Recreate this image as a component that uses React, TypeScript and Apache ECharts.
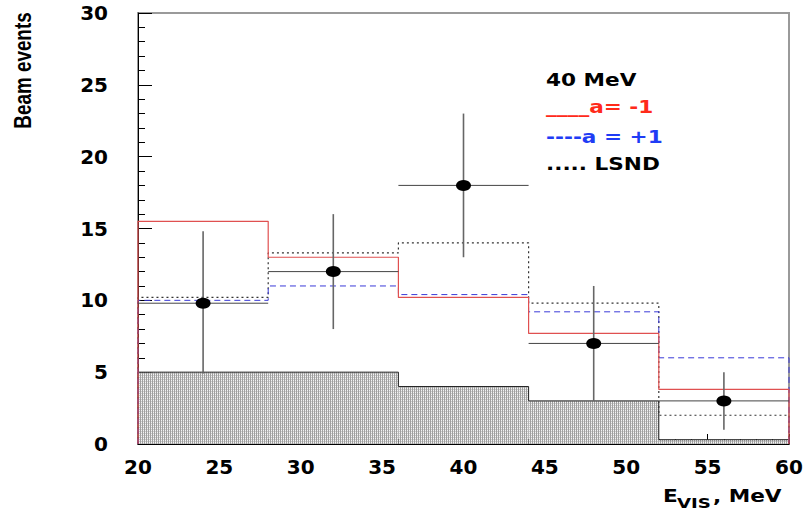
import React, { useEffect, useRef } from 'react';
import * as echarts from 'echarts';

// ---- data ----
const binEdges = [20, 28, 36, 44, 52, 60];
const binCenters = [24, 32, 40, 48, 56];
const dataValues = [9.8, 12, 18, 7, 3];
const dataErrLow = [4.9, 8, 13, 3, 1];
const dataErrHigh = [14.8, 16, 23, 11, 5];
const aMinus1 = [15.5, 13.0, 10.2, 7.7, 3.8];
const aPlus1 = [10.0, 11.0, 10.4, 9.2, 6.0];
const lsnd = [10.2, 13.3, 14.0, 9.8, 2.0];
const background = [5, 5, 4, 3, 0.3];
const legendLines = ['40 MeV', '____a= -1', '----a = +1', '..... LSND'];
const legendColors = ['#000000', '#ff2a1a', '#1f3cf5', '#000000'];
const yTitle = 'Beam events';

function stepPoints(vals: number[]) {
  const pts: number[][] = [[binEdges[0], 0]];
  vals.forEach((v, i) => {
    pts.push([binEdges[i], v]);
    pts.push([binEdges[i + 1], v]);
  });
  pts.push([binEdges[binEdges.length - 1], 0]);
  return pts;
}

function makePattern() {
  const c = document.createElement('canvas');
  c.width = 2;
  c.height = 2;
  const ctx = c.getContext('2d')!;
  ctx.fillStyle = '#f4f4f4';
  ctx.fillRect(0, 0, 2, 2);
  ctx.fillStyle = '#a0a0a0';
  ctx.fillRect(0, 0, 1, 2);
  ctx.fillStyle = '#cccccc';
  ctx.fillRect(1, 1, 1, 1);
  return { type: 'pattern', image: c.toDataURL(), repeat: 'repeat', imageWidth: 2, imageHeight: 2 } as any;
}

export default function App() {
  const ref = useRef<HTMLDivElement>(null);
  useEffect(() => {
    if (!ref.current) return;
    const chart = echarts.init(ref.current, undefined, { renderer: 'svg' });
    const pattern = makePattern();
    const tickFont = { fontFamily: 'DejaVu Sans', fontWeight: 'bold' as const, fontSize: 20, color: '#000' };

    const legendY = [80, 107.5, 137, 164];
    const legendGraphics = legendLines.map((t, i) => ({
      type: 'text',
      x: 546,
      y: legendY[i],
      scaleX: 1.2,
      style: {
        text: t,
        fontFamily: 'DejaVu Sans',
        fontWeight: 'bold',
        fontSize: 18,
        fill: legendColors[i],
        align: 'left',
        verticalAlign: 'middle',
      },
    }));

    const option: any = {
      animation: false,
      backgroundColor: '#ffffff',
      grid: { left: 138, right: 18, top: 13, bottom: 71, show: true, borderColor: '#9a9a9a', borderWidth: 2 },
      xAxis: {
        type: 'value',
        min: 20,
        max: 60,
        interval: 5,
        axisLine: { show: true, onZero: false, lineStyle: { color: '#000', width: 1 } },
        axisTick: { show: true, inside: true, length: 10, lineStyle: { color: '#000' } },
        minorTick: { show: true, splitNumber: 5, length: 5, lineStyle: { color: '#000' } },
        splitLine: { show: false },
        axisLabel: { ...tickFont, margin: 13, showMinLabel: true, showMaxLabel: true },
      },
      yAxis: {
        type: 'value',
        min: 0,
        max: 30,
        interval: 5,
        axisLine: { show: true, lineStyle: { color: '#000', width: 1 } },
        axisTick: { show: true, inside: true, length: 14, lineStyle: { color: '#000' } },
        minorTick: { show: true, splitNumber: 5, length: 7, lineStyle: { color: '#000' } },
        splitLine: { show: false },
        axisLabel: { ...tickFont, margin: 30, showMinLabel: true, showMaxLabel: true },
      },
      series: [
        {
          type: 'custom',
          name: 'background',
          clip: false,
          data: background.map((v, i) => [binEdges[i], binEdges[i + 1], v]),
          renderItem: (params: any, api: any) => {
            const p0 = api.coord([api.value(0), api.value(2)]);
            const p1 = api.coord([api.value(1), 0]);
            return {
              type: 'rect',
              shape: { x: p0[0], y: p0[1], width: p1[0] - p0[0], height: p1[1] - p0[1] },
              style: { fill: pattern, stroke: null, lineWidth: 0 },
            };
          },
          z: 1,
        },
        {
          type: 'line',
          name: 'background outline',
          data: stepPoints(background),
          symbol: 'none',
          clip: false,
          lineStyle: { color: '#222', width: 1 },
          z: 1,
        },
        {
          type: 'line',
          name: 'LSND',
          data: stepPoints(lsnd),
          symbol: 'none',
          clip: false,
          lineStyle: { color: '#333', width: 1.2, type: [2, 3] },
          z: 2,
        },
        {
          type: 'line',
          name: 'a = +1',
          data: stepPoints(aPlus1),
          symbol: 'none',
          clip: false,
          lineStyle: { color: '#3a3ad8', width: 1, type: [6, 4] },
          z: 3,
        },
        {
          type: 'line',
          name: 'a = -1',
          data: stepPoints(aMinus1),
          symbol: 'none',
          clip: false,
          lineStyle: { color: '#e05050', width: 1.2 },
          z: 4,
        },
        {
          type: 'custom',
          name: 'errors',
          clip: false,
          data: binCenters.map((c, i) => [c, dataValues[i], dataErrLow[i], dataErrHigh[i], binEdges[i], binEdges[i + 1]]),
          renderItem: (params: any, api: any) => {
            const lo = api.coord([api.value(0), api.value(2)]);
            const hi = api.coord([api.value(0), api.value(3)]);
            const l = api.coord([api.value(4), api.value(1)]);
            const r = api.coord([api.value(5), api.value(1)]);
            return {
              type: 'group',
              children: [
                { type: 'line', shape: { x1: l[0], y1: l[1], x2: r[0], y2: r[1] }, style: { stroke: '#444', lineWidth: 1 } },
                { type: 'line', shape: { x1: lo[0], y1: lo[1], x2: hi[0], y2: hi[1] }, style: { stroke: '#666', lineWidth: 1.6 } },
              ],
            };
          },
          z: 5,
        },
        {
          type: 'scatter',
          name: 'data',
          data: binCenters.map((c, i) => [c, dataValues[i]]),
          symbol: 'circle',
          symbolSize: [15, 11],
          itemStyle: { color: '#000', opacity: 1 },
          z: 6,
        },
      ],
      graphic: [
        ...legendGraphics,
        {
          type: 'text',
          x: 22.5,
          y: 70.5,
          rotation: Math.PI / 2,
          scaleX: 0.82,
          style: {
            text: yTitle,
            fontFamily: 'Liberation Sans',
            fontWeight: 'bold',
            fontSize: 23,
            fill: '#000',
            align: 'center',
            verticalAlign: 'middle',
          },
        },
        {
          type: 'text',
          x: 663,
          y: 495.7,
          scaleX: 1.2,
          style: { text: 'E', fontFamily: 'DejaVu Sans', fontWeight: 'bold', fontSize: 18, fill: '#000', align: 'left', verticalAlign: 'middle' },
        },
        {
          type: 'text',
          x: 677,
          y: 503,
          scaleX: 1.3,
          style: { text: 'VIS', fontFamily: 'DejaVu Sans', fontWeight: 'bold', fontSize: 14, fill: '#000', align: 'left', verticalAlign: 'middle' },
        },
        {
          type: 'text',
          x: 713,
          y: 495.7,
          scaleX: 1.2,
          style: { text: ', MeV', fontFamily: 'DejaVu Sans', fontWeight: 'bold', fontSize: 18, fill: '#000', align: 'left', verticalAlign: 'middle' },
        },
      ],
    };
    chart.setOption(option);
    return () => chart.dispose();
  }, []);
  return (
    <div
      ref={ref}
      style={{ position: 'fixed', left: 0, top: 0, width: 807, height: 515, background: '#fff' }}
    />
  );
}
